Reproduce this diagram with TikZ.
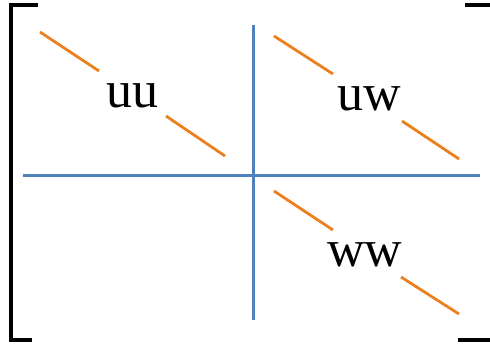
\documentclass[tikz,border=0pt]{standalone}
\usepackage{fontspec}
\setmainfont{Liberation Serif}
\definecolor{gridblue}{RGB}{79,129,189}
\definecolor{diagorange}{RGB}{237,128,30}
\tikzstyle{every node}=[font=\fontsize{52}{62}\selectfont, inner sep=0pt]
\tikzstyle{bracket}=[line width=4pt, black]
\tikzstyle{divider}=[line width=3pt, gridblue]
\tikzstyle{diag}=[line width=2.8pt, diagorange]

\begin{document}
\begin{tikzpicture}[x=1pt, y=-1pt]
    \useasboundingbox (0,0) rectangle (490,346);

    % 左右括号
    \draw[bracket] (38,5) -- (11,5) -- (11,340) -- (32,340);
    \draw[bracket] (465,5) -- (490,5);
    \draw[bracket] (458,340) -- (490,340);

    % 分块线
    \coordinate (hl) at (23,175);
    \coordinate (hr) at (480,175);
    \coordinate (vt) at (253,25);
    \coordinate (vb) at (253,320);
    \draw[divider] (hl) -- (hr);
    \draw[divider] (vt) -- (vb);

    % 左上块
    \begin{scope}
        \node (uu) at (132,96) {uu};
        \coordinate (uua) at (40,32);
        \coordinate (uub) at (99,71);
        \coordinate (uuc) at (166,116);
        \coordinate (uud) at (225,156);
        \draw[diag] (uua) -- (uub);
        \draw[diag] (uuc) -- (uud);
    \end{scope}

    % 右上块
    \begin{scope}
        \node (uw) at (369,99) {uw};
        \coordinate (uwa) at (274,36);
        \coordinate (uwb) at (333,74);
        \coordinate (uwc) at (402,121);
        \coordinate (uwd) at (459,159);
        \draw[diag] (uwa) -- (uwb);
        \draw[diag] (uwc) -- (uwd);
    \end{scope}

    % 右下块
    \begin{scope}
        \node (ww) at (365,255) {ww};
        \coordinate (wwa) at (274,191);
        \coordinate (wwb) at (333,230);
        \coordinate (wwc) at (401,277);
        \coordinate (wwd) at (459,314);
        \draw[diag] (wwa) -- (wwb);
        \draw[diag] (wwc) -- (wwd);
    \end{scope}
\end{tikzpicture}
\end{document}
